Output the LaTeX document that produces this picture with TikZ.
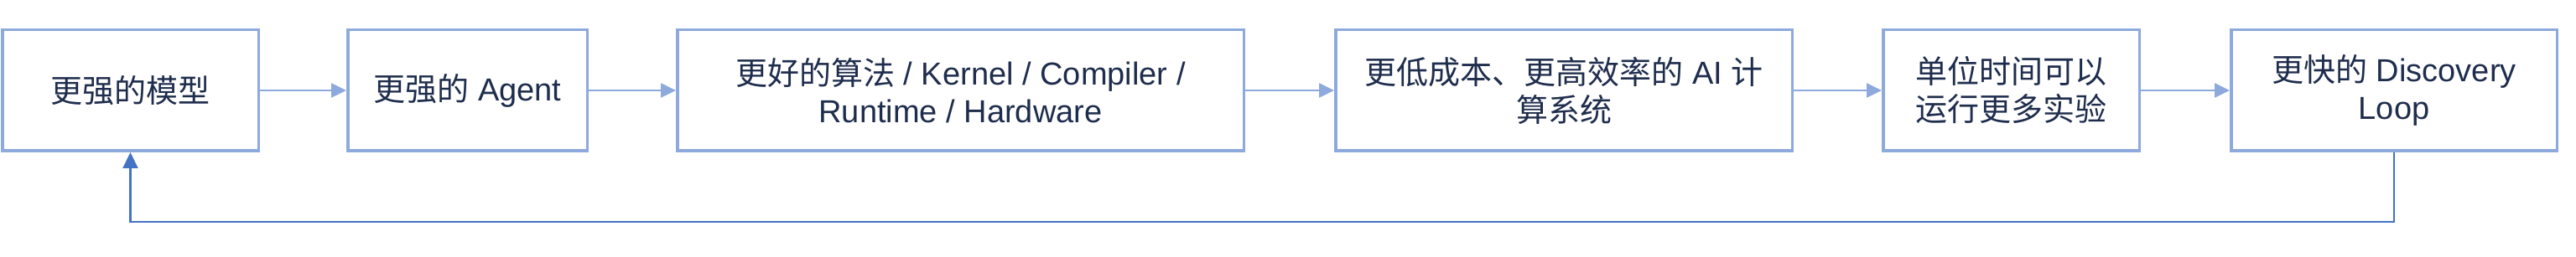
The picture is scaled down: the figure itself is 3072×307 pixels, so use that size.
\documentclass[tikz,border=0pt]{standalone}
\usepackage{fontspec}
\setmainfont{Liberation Sans}
\newfontfamily\cjk{Noto Sans CJK SC}
\usetikzlibrary{arrows.meta}
\definecolor{boxblue}{HTML}{8EAADC}
\definecolor{loopblue}{HTML}{4472C4}
\definecolor{txt}{RGB}{31,45,77}
\tikzset{
  x=1pt, y=1pt,
  stage/.style={draw=boxblue, line width=3.5pt, fill=white, rectangle,
    minimum height=144.5pt, inner sep=0pt, align=center, text=txt,
    font=\fontsize{38}{45}\selectfont},
  fwd/.style={draw=boxblue, line width=2.5pt, -{Triangle[length=18pt,width=17pt]}},
  back/.style={draw=loopblue, line width=2.2pt, -{Triangle[length=19pt,width=18pt]}}
}
\begin{document}
\begin{tikzpicture}
\useasboundingbox (0,0) rectangle (3072,307);
\node[stage, minimum width=305.5pt] (b1) at (155.5,199) {{\cjk 更强的模型}};
\node[stage, minimum width=285.5pt] (b2) at (557.5,199) {{\cjk 更强的} Agent};
\node[stage, minimum width=675.5pt] (b3) at (1145.5,199) {{\cjk 更好的算法} / Kernel / Compiler /\\Runtime / Hardware};
\node[stage, minimum width=544.5pt] (b4) at (1865,199) {{\cjk 更低成本、更高效率的} AI {\cjk 计}\\{\cjk 算系统}};
\node[stage, minimum width=305.5pt] (b5) at (2398.5,199) {{\cjk 单位时间可以}\\{\cjk 运行更多实验}};
\node[stage, minimum width=388.5pt] (b6) at (2855,199) {{\cjk 更快的} Discovery\\Loop};
\coordinate (loop) at (0,42);
\draw[fwd] (b1.east) -- (b2.west);
\draw[fwd] (b2.east) -- (b3.west);
\draw[fwd] (b3.east) -- (b4.west);
\draw[fwd] (b4.east) -- (b5.west);
\draw[fwd] (b5.east) -- (b6.west);
\draw[back] (b6.south) -- (b6.south |- loop) -| (b1.south);
\end{tikzpicture}
\end{document}
